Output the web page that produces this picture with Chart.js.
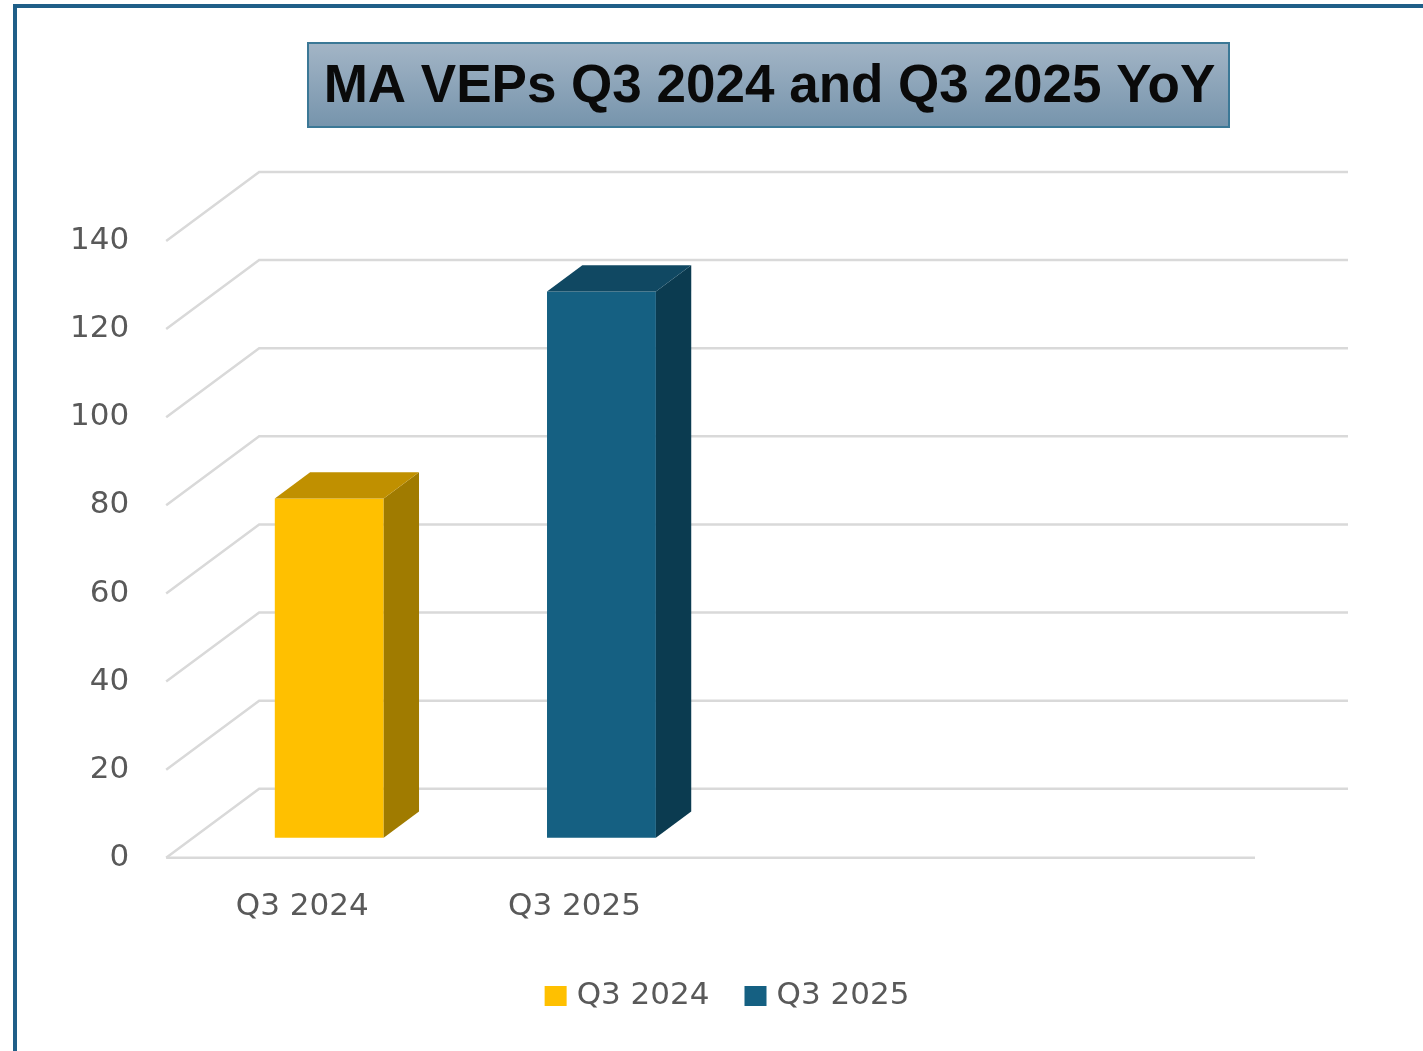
<!DOCTYPE html>
<html>
<head>
<meta charset="utf-8">
<title>MA VEPs Q3 2024 and Q3 2025 YoY</title>
<script src="https://cdn.jsdelivr.net/npm/chart.js@4.4.1/dist/chart.umd.min.js"></script>
<style>
  html, body { margin: 0; padding: 0; background: #ffffff; overflow: hidden; }
  canvas { display: block; }
</style>
</head>
<body>
<canvas id="myChart" width="1423" height="1051"></canvas>
<script>
// chart data
const chartTitle = "MA VEPs Q3 2024 and Q3 2025 YoY";
const categories = ["Q3 2024", "Q3 2025", "", ""];
const seriesNames = ["Q3 2024", "Q3 2025"];
const q3_2024 = [77, null, null, null];
const q3_2025 = [null, 124, null, null];
const yMin = 0;
const yMax = 140;
const yStep = 20;

// colours: front, top, side
const seriesColors = [
  { front: "#FFC000", top: "#C09000", side: "#A07B00" },
  { front: "#156082", top: "#104862", side: "#0B3B50" },
];

const tickFont = { family: "DejaVu Sans", size: 31 };
const textGrey = "#595959";
const gridGrey = "#D9D9D9";

// 3d projection: full floor depth and where the bars sit in it
const depth = { dx: 93, dy: -69 };
const barFront = 0.29; // fraction of depth
const barDepth = 0.38;

const threeD = {
  id: "threeD",
  beforeDraw(chart) {
    const ctx = chart.ctx;
    ctx.save();
    // outer frame (left and top edges visible)
    ctx.fillStyle = "#1F5F88";
    ctx.fillRect(13, 4, 4, chart.height);
    ctx.fillRect(13, 4, chart.width, 4);

    // title box
    const bx = 308, by = 43, bw = 921, bh = 84;
    const grad = ctx.createLinearGradient(0, by, 0, by + bh);
    grad.addColorStop(0, "#A3B5C6");
    grad.addColorStop(1, "#7694AC");
    ctx.fillStyle = grad;
    ctx.fillRect(bx, by, bw, bh);
    ctx.strokeStyle = "#3B7896";
    ctx.lineWidth = 2;
    ctx.strokeRect(bx, by, bw, bh);
    ctx.fillStyle = "#0A0A0A";
    ctx.font = "bold 53px 'Liberation Sans', Arial, sans-serif";
    ctx.textAlign = "center";
    ctx.textBaseline = "middle";
    ctx.fillText(chartTitle, bx + bw / 2 + 1, by + bh / 2 + 2);
    ctx.restore();
  },
  beforeDatasetsDraw(chart) {
    const ctx = chart.ctx;
    const { left, right } = chart.chartArea;
    const yScale = chart.scales.y;
    ctx.save();
    ctx.strokeStyle = gridGrey;
    ctx.lineWidth = 2.5;
    ctx.lineCap = "butt";
    yScale.ticks.forEach((t) => {
      const y = yScale.getPixelForValue(t.value);
      ctx.beginPath();
      ctx.moveTo(left, y);
      ctx.lineTo(left + depth.dx, y + depth.dy);
      ctx.lineTo(right + depth.dx, y + depth.dy);
      ctx.stroke();
    });
    // front edge of floor
    const y0 = yScale.getPixelForValue(yMin);
    ctx.beginPath();
    ctx.moveTo(left, y0);
    ctx.lineTo(right, y0);
    ctx.stroke();
    ctx.restore();
  },
  beforeDatasetDraw(chart) {
    const ctx = chart.ctx;
    ctx.save();
    ctx.translate(depth.dx * barFront, depth.dy * barFront);
  },
  afterDatasetDraw(chart, args) {
    const ctx = chart.ctx;
    const col = seriesColors[args.index];
    const data = chart.data.datasets[args.index].data;
    const ox = depth.dx * barDepth;
    const oy = depth.dy * barDepth;
    args.meta.data.forEach((bar, i) => {
      if (data[i] === null) return;
      const { x, y, base, width } = bar.getProps(["x", "y", "base", "width"], true);
      const xl = x - width / 2;
      const xr = x + width / 2;
      // side face
      ctx.fillStyle = col.side;
      ctx.beginPath();
      ctx.moveTo(xr, y);
      ctx.lineTo(xr + ox, y + oy);
      ctx.lineTo(xr + ox, base + oy);
      ctx.lineTo(xr, base);
      ctx.closePath();
      ctx.fill();
      // top face
      ctx.fillStyle = col.top;
      ctx.beginPath();
      ctx.moveTo(xl, y);
      ctx.lineTo(xl + ox, y + oy);
      ctx.lineTo(xr + ox, y + oy);
      ctx.lineTo(xr, y);
      ctx.closePath();
      ctx.fill();
    });
    ctx.restore();
  },
  afterDraw(chart) {
    // legend, built from the datasets
    const ctx = chart.ctx;
    ctx.save();
    ctx.font = tickFont.size + "px '" + tickFont.family + "'";
    ctx.textBaseline = "middle";
    ctx.textAlign = "left";
    const box = 22, boxH = 20, gap = 10, itemGap = 35;
    const items = chart.data.datasets.map((ds) => ({
      label: ds.label,
      color: ds.backgroundColor,
      w: box + gap + ctx.measureText(ds.label).width,
    }));
    const total = items.reduce((s, it) => s + it.w, 0) + itemGap * (items.length - 1);
    let x = 727 - total / 2;
    const cy = 996;
    items.forEach((it) => {
      ctx.fillStyle = it.color;
      ctx.fillRect(x, cy - boxH / 2, box, boxH);
      ctx.fillStyle = textGrey;
      ctx.fillText(it.label, x + box + gap, cy);
      x += it.w + itemGap;
    });
    ctx.restore();
  },
};

const ctx = document.getElementById("myChart").getContext("2d");

new Chart(ctx, {
  type: "bar",
  data: {
    labels: categories,
    datasets: [
      {
        label: seriesNames[0],
        data: q3_2024,
        backgroundColor: seriesColors[0].front,
        borderWidth: 0,
        clip: false,
      },
      {
        label: seriesNames[1],
        data: q3_2025,
        backgroundColor: seriesColors[1].front,
        borderWidth: 0,
        clip: false,
      },
    ],
  },
  options: {
    responsive: false,
    animation: false,
    devicePixelRatio: 1,
    grouped: false,
    categoryPercentage: 1,
    barPercentage: 0.4,
    layout: {
      padding: { top: 241, left: 33, right: 168, bottom: 94 },
    },
    scales: {
      x: {
        grid: { display: false, drawTicks: false },
        border: { display: false },
        ticks: {
          font: tickFont,
          color: textGrey,
          padding: 31,
          autoSkip: false,
          maxRotation: 0,
        },
      },
      y: {
        min: yMin,
        max: yMax,
        grid: { display: false, drawTicks: false },
        border: { display: false },
        ticks: {
          stepSize: yStep,
          font: tickFont,
          color: textGrey,
          padding: 37,
        },
      },
    },
    plugins: {
      legend: { display: false },
      title: { display: false },
      tooltip: { enabled: false },
    },
  },
  plugins: [threeD],
});
</script>
</body>
</html>
